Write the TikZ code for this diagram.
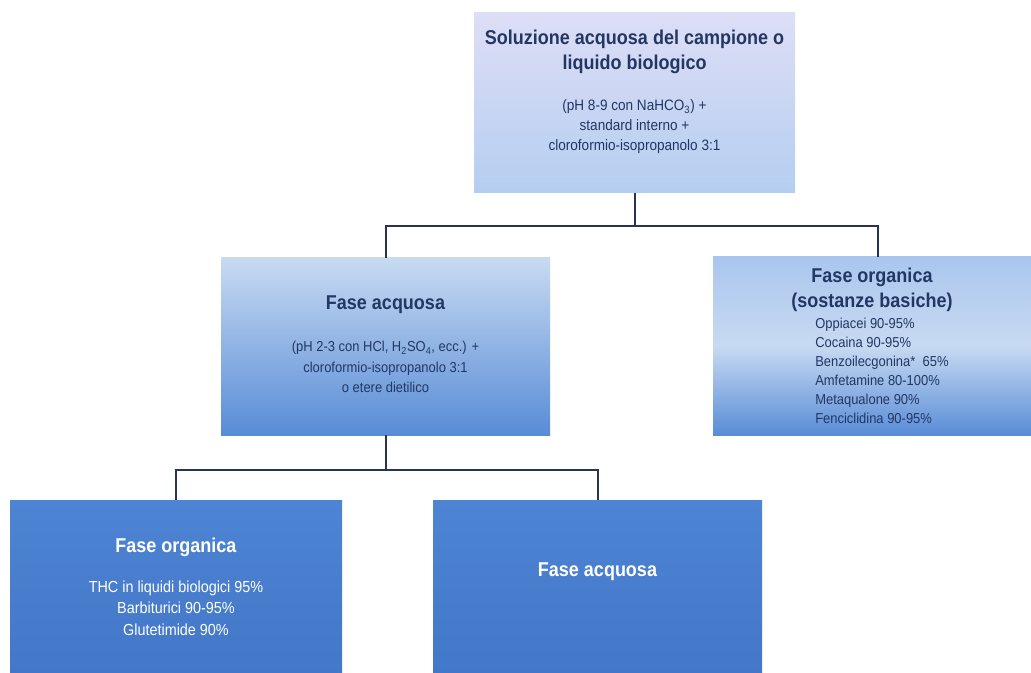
\documentclass[tikz,border=0pt]{standalone}
\usepackage{fontspec}
\setmainfont{Liberation Sans}[FakeStretch=0.9]
\definecolor{navy}{RGB}{35,55,100}
\definecolor{lineblue}{RGB}{40,52,85}
\definecolor{lav}{RGB}{222,222,246}
\definecolor{lavb}{RGB}{180,206,240}
\definecolor{midt}{RGB}{200,218,242}
\definecolor{midb}{RGB}{88,140,214}
\definecolor{rt}{RGB}{170,198,238}
\definecolor{lowt}{RGB}{78,132,212}
\definecolor{lowb}{RGB}{66,118,200}
\tikzset{
  boxbase/.style={draw=none, inner sep=0pt, rectangle},
  topbox/.style={boxbase, top color=lav, bottom color=lavb},
  midbox/.style={boxbase, top color=midt, bottom color=midb},
  rbox/.style={boxbase, top color=rt, bottom color=midb, middle color=midt},
  lowbox/.style={boxbase, top color=lowt, bottom color=lowb},
  conn/.style={draw=lineblue, line width=1.5pt},
  head/.style={font=\bfseries\fontsize{15}{19}\selectfont, text=navy, align=center, inner sep=0pt},
  small/.style={font=\fontsize{11}{15}\selectfont, text=navy, align=center, inner sep=0pt},
  whead/.style={head, text=white},
  wsmall/.style={small, text=white},
}
\begin{document}
\begin{tikzpicture}[x=0.75pt,y=-0.75pt]
\useasboundingbox (0,0) rectangle (1031,673);
\clip (0,0) rectangle (1031,673);
\fill[white] (0,0) rectangle (1031,673);
% boxes
\node[topbox, minimum width=240.75pt, minimum height=135pt] (top) at (634.5,103) {};
\node[midbox, minimum width=246.75pt, minimum height=132.75pt] (ml) at (385.5,346.5) {};
\node[rbox, minimum width=247.5pt, minimum height=133.5pt] (mr) at (878,346) {};
\node[lowbox, minimum width=249pt, minimum height=142.5pt] (bl) at (176,595) {};
\node[lowbox, minimum width=246.75pt, minimum height=142.5pt] (br) at (597.5,595) {};
% connectors
\coordinate (j1) at (634.5,226);
\coordinate (j2) at (385.5,470);
\draw[conn] (top.south) -- (j1);
\draw[conn] (ml.north) |- (j1) -| (mr.north);
\draw[conn] (ml.south) -- (j2);
\draw[conn] (bl.north) |- (j2) -| (br.north);
% texts top
\node[head] (t1) at (634.5,52) {Soluzione acquosa del campione o\\liquido biologico};
\node[small, font=\fontsize{11.3}{15}\selectfont] (t2) at (634.5,127) {(pH 8-9 con NaHCO\textsubscript{3}) +\\standard interno +\\cloroformio-isopropanolo 3:1};
% mid left
\node[head] (m1) at (385.5,305) {Fase acquosa};
\node[small, font=\fontsize{10.8}{15.2}\selectfont] (m2) at (385.5,367) {(pH 2-3 con HCl, H\textsubscript{2}SO\textsubscript{4}, ecc.) +\\cloroformio-isopropanolo 3:1\\o etere dietilico};
% right
\node[head] (r1) at (872,290) {Fase organica\\(sostanze basiche)};
\node[small, align=left, anchor=north west, font=\fontsize{10.8}{14.2}\selectfont] (r2) at (815,318) {Oppiacei 90-95\%\\Cocaina 90-95\%\\Benzoilecgonina*\ \ 65\%\\Amfetamine 80-100\%\\Metaqualone 90\%\\Fenciclidina 90-95\%};
% bottom left
\node[whead] (b1) at (176,547) {Fase organica};
\node[wsmall, font=\fontsize{12}{16}\selectfont] (b2) at (176,608) {THC in liquidi biologici 95\%\\Barbiturici 90-95\%\\Glutetimide 90\%};
% bottom right
\node[whead] (b3) at (597.5,572) {Fase acquosa};
\end{tikzpicture}
\end{document}
